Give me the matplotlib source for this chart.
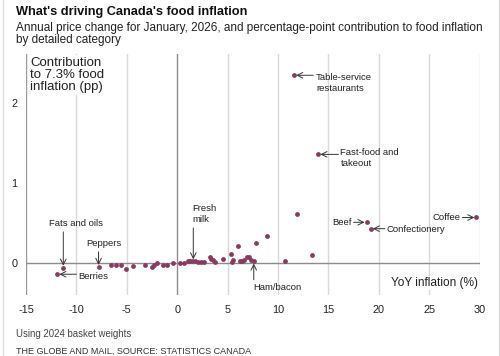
import matplotlib
matplotlib.use("Agg")
import matplotlib.pyplot as plt
from matplotlib.lines import Line2D

plt.rcParams['font.family'] = ['Liberation Sans', 'DejaVu Sans']

# YoY inflation (%) and contribution (pp)
yoy = [-11.9, -11.3, -7.8, -6.6, -6.1, -5.6, -5.1, -4.4, -3.2, -2.5, -2.3, -2.0,
       -1.4, -1.0, -0.4, 0.3, 0.7, 1.1, 1.3, 1.5, 1.8, 2.1, 2.4, 2.7,
       3.3, 3.4, 3.6, 3.8, 4.5, 5.3, 5.4, 5.5, 6.0, 6.2, 6.4, 6.6, 6.9, 7.1,
       7.3, 7.6, 7.8, 8.9, 10.7, 11.85, 13.4, 18.8, 19.2, 29.7, 11.6, 14.0]
contrib = [-0.14, -0.06, -0.05, -0.03, -0.03, -0.03, -0.08, -0.04, -0.03, -0.05, -0.03, 0.0,
           -0.02, -0.03, 0.0, 0.0, 0.0, 0.02, 0.03, 0.03, 0.02, 0.01, 0.01, 0.01,
           0.07, 0.05, 0.04, 0.01, 0.05, 0.11, 0.01, 0.04, 0.21, 0.02, 0.03, 0.04, 0.08, 0.07,
           0.04, 0.02, 0.25, 0.34, 0.03, 0.62, 0.10, 0.51, 0.43, 0.57, 2.35, 1.36]

x_ticks = [-15, -10, -5, 0, 5, 10, 15, 20, 25, 30]
y_ticks = [0, 1, 2]

title = "What's driving Canada's food inflation"
subtitle = "Annual price change for January, 2026, and percentage-point contribution to food inflation\nby detailed category"
note = "Using 2024 basket weights"
source = "THE GLOBE AND MAIL, SOURCE: STATISTICS CANADA"

W, H = 500, 356
fig = plt.figure(figsize=(W / 100, H / 100), dpi=100)
ax = fig.add_axes([26 / W, (H - 295) / H, (479.5 - 26) / W, (295 - 54) / H])
ax.set_xlim(-15, 30)
ax.set_ylim(-0.4, (263.3 - 54) / 80)

for t in x_ticks:
    if t == 0:
        ax.axvline(t, color='#8c8c8c', lw=1.0, zorder=1)
    elif t == -15:
        ax.axvline(t, color='#9a9a9a', lw=1.0, zorder=1)
    else:
        ax.axvline(t, color='#d9d9d9', lw=1.0, zorder=1)
ax.axhline(0, color='#8c8c8c', lw=1.0, zorder=1)

for s in ax.spines.values():
    s.set_visible(False)
ax.set_xticks(x_ticks)
ax.set_xticklabels([str(t) for t in x_ticks])
ax.set_yticks(y_ticks)
ax.set_yticklabels([str(t) for t in y_ticks])
ax.tick_params(axis='both', length=0, labelsize=7.8, colors='#222222')
ax.tick_params(axis='x', pad=7)
ax.tick_params(axis='y', pad=6)

ax.scatter(yoy, contrib, s=12, color='#8a3a62', zorder=3, linewidths=0)

fs = 6.8
arrow = dict(arrowstyle='->', color='#333333', lw=0.7, shrinkA=0, shrinkB=1.5)

# Table-service restaurants
ax.annotate("Table-service\nrestaurants", xy=(11.6, 2.35), xytext=(13.8, 2.38),
            ha='left', va='top', fontsize=fs, color='#222222', linespacing=1.3)
ax.annotate("", xy=(11.6, 2.35), xytext=(13.5, 2.35), arrowprops=arrow)
# Fast-food
ax.annotate("Fast-food and\ntakeout", xy=(14.0, 1.36), xytext=(16.2, 1.44),
            ha='left', va='top', fontsize=fs, color='#222222', linespacing=1.3)
ax.annotate("", xy=(14.0, 1.36), xytext=(16.0, 1.36), arrowprops=arrow)
# Beef
ax.annotate("", xy=(18.8, 0.51), xytext=(17.5, 0.51), arrowprops=arrow)
ax.text(17.3, 0.51, "Beef", ha='right', va='center', fontsize=fs, color='#222222')
# Confectionery
ax.annotate("", xy=(19.2, 0.43), xytext=(20.6, 0.43), arrowprops=arrow)
ax.text(20.8, 0.42, "Confectionery", ha='left', va='center', fontsize=fs, color='#222222')
# Coffee
ax.annotate("", xy=(29.7, 0.57), xytext=(28.3, 0.57), arrowprops=arrow)
ax.text(28.1, 0.57, "Coffee", ha='right', va='center', fontsize=fs, color='#222222')
# Fats and oils
ax.annotate("", xy=(-11.3, -0.06), xytext=(-11.3, 0.39), arrowprops=arrow)
ax.text(-10.0, 0.44, "Fats and oils", ha='center', va='bottom', fontsize=fs, color='#222222')
# Peppers
ax.annotate("", xy=(-7.8, -0.05), xytext=(-7.8, 0.14), arrowprops=arrow)
ax.text(-7.3, 0.19, "Peppers", ha='center', va='bottom', fontsize=fs, color='#222222')
# Berries
ax.annotate("", xy=(-11.9, -0.14), xytext=(-10.0, -0.14), arrowprops=arrow)
ax.text(-9.8, -0.17, "Berries", ha='left', va='center', fontsize=fs, color='#222222')
# Fresh milk
ax.annotate("", xy=(1.6, 0.02), xytext=(1.6, 0.44), arrowprops=arrow)
ax.text(1.5, 0.49, "Fresh\nmilk", ha='left', va='bottom', fontsize=fs, color='#222222',
        linespacing=1.3)
# Ham/bacon
ax.annotate("", xy=(7.6, 0.02), xytext=(7.6, -0.21), arrowprops=arrow)
ax.text(7.5, -0.25, "Ham/bacon", ha='left', va='top', fontsize=fs, color='#222222')

# Axis labels
ax.text(-14.6, 2.58, "Contribution\nto 7.3% food\ninflation (pp)", ha='left', va='top',
        fontsize=9.5, color='#222222', linespacing=0.98,
        bbox=dict(facecolor='white', edgecolor='none', pad=1.0))
ax.text(29.9, -0.25, "YoY inflation (%)", ha='right', va='center', fontsize=8.6,
        color='#222222', bbox=dict(facecolor='white', edgecolor='none', pad=0.5))

# Titles
fig.text(16 / W, 1 - 12.5 / H, title, ha='left', va='center', fontsize=9.2, fontweight='bold',
         color='#111111')
fig.text(16 / W, 1 - 34 / H, subtitle, ha='left', va='center', fontsize=8.5,
         color='#222222', linespacing=1.0)
fig.text(16 / W, 1 - 334 / H, note, ha='left', va='center', fontsize=6.9, color='#444444')
fig.text(16 / W, 1 - 351 / H, source, ha='left', va='center', fontsize=6.5, color='#333333')

# light frame lines at figure edges
fig.add_artist(Line2D([2.5 / W, 2.5 / W], [0, 1], color='#dddddd', lw=1, transform=fig.transFigure))
fig.add_artist(Line2D([498.5 / W, 498.5 / W], [0, 1], color='#dddddd', lw=1, transform=fig.transFigure))

fig.savefig("out.png", dpi=100)
